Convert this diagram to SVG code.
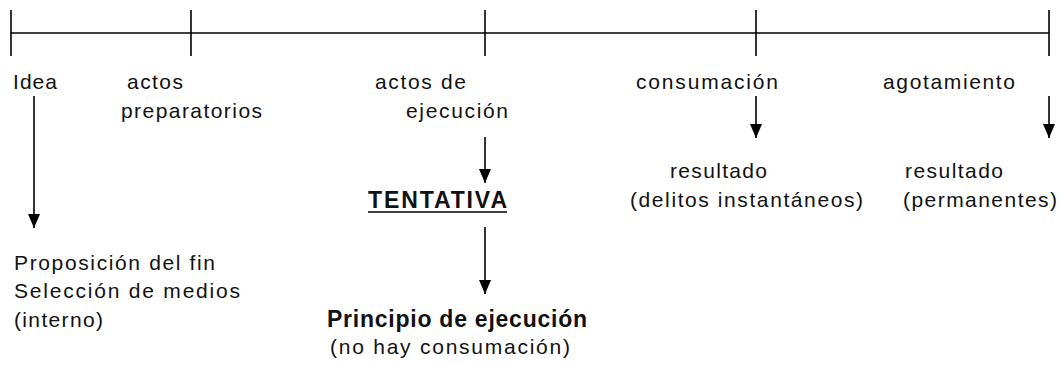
<svg xmlns="http://www.w3.org/2000/svg" width="1063" height="366" viewBox="0 0 1063 366">
<defs>
<marker id="ah" markerUnits="userSpaceOnUse" markerWidth="14" markerHeight="12" refX="14" refY="6" orient="auto" viewBox="0 0 14 12">
<path d="M0,0 L14,6 L0,12 Z" fill="#000"/>
</marker>
<style>
text{font-family:"Liberation Sans",Arial,sans-serif;font-size:21px;fill:#111}
.b{font-weight:bold}
.t{font-size:23px}
.ln{stroke:#000;stroke-width:1.6;fill:none}
.ar{stroke:#000;stroke-width:1.6;fill:none}
</style>
</defs>
<rect width="1063" height="366" fill="#fff"/>
<g id="timeline">
<line class="ln" x1="11" y1="33" x2="1049" y2="33"/>
<line class="ln" x1="11" y1="10" x2="11" y2="56"/>
<line class="ln" x1="191" y1="10" x2="191" y2="56"/>
<line class="ln" x1="485" y1="10" x2="485" y2="56"/>
<line class="ln" x1="756" y1="10" x2="756" y2="56"/>
<line class="ln" x1="1049" y1="10" x2="1049" y2="56"/>
</g>
<g id="connectors">
<line class="ar" x1="34" y1="96" x2="34" y2="228" marker-end="url(#ah)"/>
<line class="ar" x1="485" y1="137" x2="485" y2="183" marker-end="url(#ah)"/>
<line class="ar" x1="485" y1="227" x2="485" y2="294" marker-end="url(#ah)"/>
<line class="ar" x1="756" y1="96" x2="756" y2="138" marker-end="url(#ah)"/>
<line class="ar" x1="1049" y1="96" x2="1049" y2="138" marker-end="url(#ah)"/>
</g>
<g id="idea">
<text x="13" y="89" textLength="44" lengthAdjust="spacing">Idea</text>
</g>
<g id="actos-preparatorios">
<text x="127" y="89" textLength="56" lengthAdjust="spacing">actos</text>
<text x="121" y="118" textLength="141" lengthAdjust="spacing">preparatorios</text>
</g>
<g id="actos-ejecucion">
<text x="375" y="89" textLength="91" lengthAdjust="spacing">actos de</text>
<text x="406" y="118" textLength="102" lengthAdjust="spacing">ejecución</text>
</g>
<g id="consumacion">
<text x="636" y="89" textLength="142" lengthAdjust="spacing">consumación</text>
</g>
<g id="agotamiento">
<text x="883" y="89" textLength="132" lengthAdjust="spacing">agotamiento</text>
</g>
<g id="interno">
<text x="14" y="270" textLength="201" lengthAdjust="spacing">Proposición del fin</text>
<text x="14" y="298" textLength="226" lengthAdjust="spacing">Selección de medios</text>
<text x="14" y="327" textLength="89" lengthAdjust="spacing">(interno)</text>
</g>
<g id="tentativa">
<text class="b t" x="368" y="208" textLength="139" lengthAdjust="spacing">TENTATIVA</text>
<line x1="368" y1="212" x2="507" y2="212" stroke="#000" stroke-width="1.6"/>
</g>
<g id="principio">
<text class="b t" x="327" y="327" textLength="260" lengthAdjust="spacing">Principio de ejecución</text>
<text x="330" y="354" textLength="240" lengthAdjust="spacing">(no hay consumación)</text>
</g>
<g id="resultado-instantaneos">
<text x="670" y="178" textLength="97" lengthAdjust="spacing">resultado</text>
<text x="630" y="207" textLength="233" lengthAdjust="spacing">(delitos instantáneos)</text>
</g>
<g id="resultado-permanentes">
<text x="905" y="178" textLength="98" lengthAdjust="spacing">resultado</text>
<text x="903" y="207" textLength="154" lengthAdjust="spacing">(permanentes)</text>
</g>
</svg>
